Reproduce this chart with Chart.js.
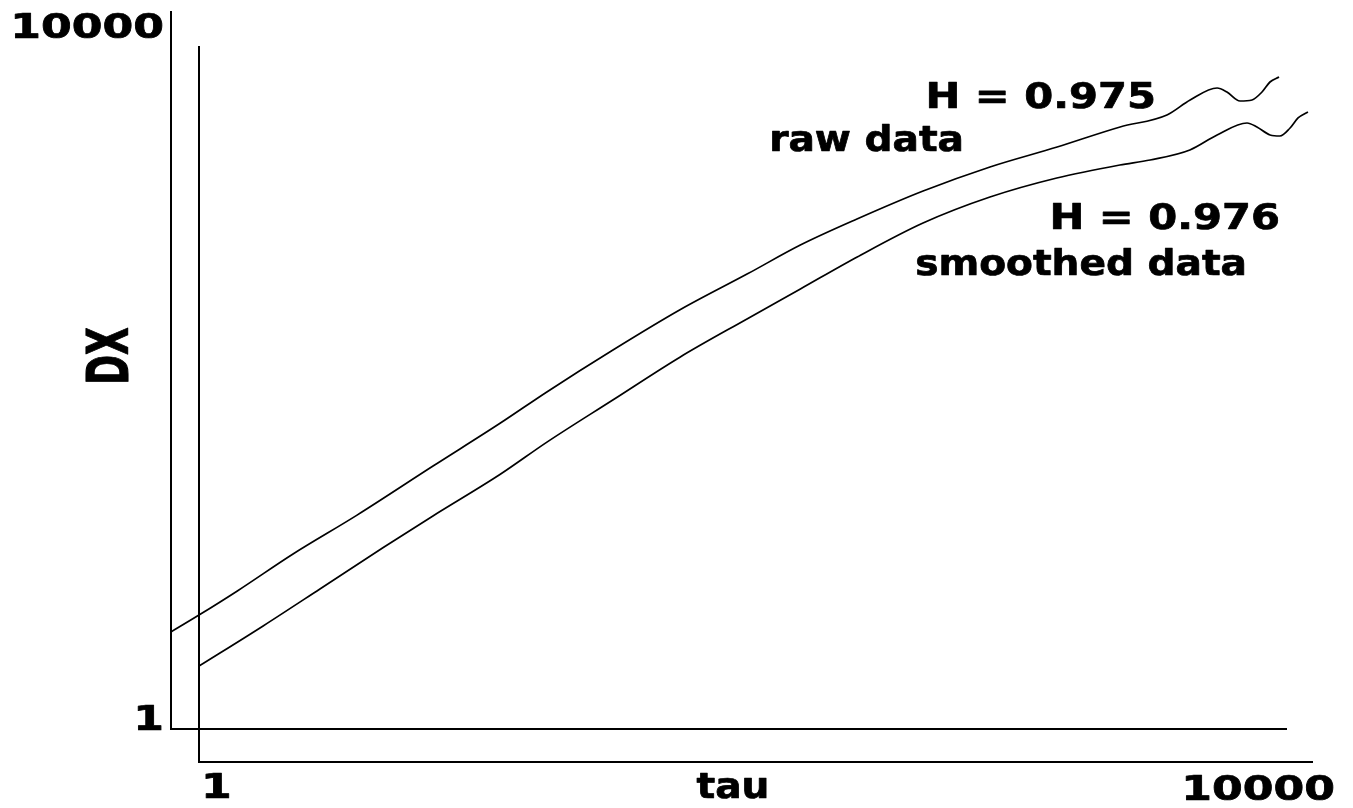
<!DOCTYPE html>
<html>
<head>
<meta charset="utf-8">
<title>DX vs tau</title>
<script src="https://cdn.jsdelivr.net/npm/chart.js@4.4.1/dist/chart.umd.min.js"></script>
<style>
  html, body { margin: 0; padding: 0; background: #ffffff; }
  #wrap { position: relative; width: 1353px; height: 808px; }
  #wrap canvas { position: absolute; left: 0; top: 0; }
</style>
</head>
<body>
<div id="wrap">
  <canvas id="rawChart" width="1353" height="808"></canvas>
  <canvas id="smoothChart" width="1353" height="808"></canvas>
</div>
<script>
// Dispersion DX against lag tau (log-log), raw and smoothed series
const tauRaw = [1, 1.26, 1.73, 2.74, 4.65, 8.71, 15.2, 22.3, 38.5, 67, 117, 181, 289, 499, 867, 1510, 2540, 3740, 4530, 5660, 6140, 6840, 7550, 8200, 8760, 9440];
const dxRaw  = [3.48, 4.32, 5.89, 9.47, 15.6, 29.3, 50.9, 75.9, 130, 218, 346, 501, 700, 1003, 1366, 1765, 2283, 2664, 3230, 3767, 3579, 3188, 3230, 3579, 4069, 4340];

const tauSmoothed = [1, 1.70, 2.72, 4.58, 6.93, 12.1, 17.8, 30.7, 53.5, 93.2, 145, 232, 400, 696, 1210, 2040, 2620, 3640, 4560, 5840, 6340, 7070, 7670, 8340, 8910, 9670];
const dxSmoothed  = [3.44, 5.77, 9.29, 15.8, 23.8, 40.7, 61.6, 106, 184, 301, 443, 669, 1036, 1448, 1850, 2187, 2333, 2653, 3219, 3757, 3568, 3219, 3177, 3523, 4007, 4330];

const axisMin = 1;
const axisMax = 10000;
const tickLabels = ['1', '10000'];

const hurstRaw = 'H = 0.975';
const hurstSmoothed = 'H = 0.976';
const rawName = 'raw data';
const smoothedName = 'smoothed data';
const xTitle = 'tau';
const yTitle = 'DX';

const FONT_FAMILY = '"DejaVu Sans", Verdana, sans-serif';

// Draws heavy bold text, optionally rotated, with independent horizontal/vertical scaling
function drawText(ctx, text, x, y, o) {
  ctx.save();
  ctx.translate(x, y);
  if (o.rotate) ctx.rotate(o.rotate);
  ctx.scale(o.sx || 1, o.sy || 1);
  ctx.font = 'bold ' + o.size + 'px ' + FONT_FAMILY;
  ctx.textAlign = o.align || 'left';
  ctx.textBaseline = 'alphabetic';
  ctx.fillStyle = '#000000';
  ctx.strokeStyle = '#000000';
  ctx.lineWidth = 0.7;
  ctx.lineJoin = 'round';
  ctx.fillText(text, 0, 0);
  ctx.strokeText(text, 0, 0);
  ctx.restore();
}

const TICK_FONT = { size: 34, sx: 1.3 };
const NOTE_BIG = { size: 35, sx: 1.19, sy: 1.03 };
const NOTE_SMALL = { size: 34, sx: 1.15, sy: 1.04 };

// Text for the raw frame: y-axis ticks, y title and the raw-series notes
const rawText = {
  id: 'rawText',
  afterDraw(chart) {
    const { ctx, scales: { y }, chartArea } = chart;
    const capH = 0.729 * TICK_FONT.size;
    const right = chartArea.left - 7;
    drawText(ctx, tickLabels[1], right, y.getPixelForValue(axisMax) + capH + 1, { ...TICK_FONT, align: 'right' });
    drawText(ctx, tickLabels[0], right, y.getPixelForValue(axisMin) + 1, { ...TICK_FONT, align: 'right' });
    drawText(ctx, yTitle, 128, 356, { size: 36, sx: 1.0, sy: 1.6, rotate: -Math.PI / 2, align: 'center' });
    drawText(ctx, hurstRaw, 1156, 108, { ...NOTE_BIG, align: 'right' });
    drawText(ctx, rawName, 964, 151, { ...NOTE_SMALL, align: 'right' });
  }
};

// Text for the smoothed frame: x-axis ticks, x title and the smoothed-series notes
const smoothText = {
  id: 'smoothText',
  afterDraw(chart) {
    const { ctx, scales: { x }, chartArea } = chart;
    const base = chartArea.bottom + 36;
    drawText(ctx, tickLabels[0], x.getPixelForValue(axisMin) + 2, base, { ...TICK_FONT, align: 'left' });
    drawText(ctx, tickLabels[1], x.getPixelForValue(axisMax) + 23, base + 2, { ...TICK_FONT, align: 'right' });
    drawText(ctx, xTitle, 733, 798, { size: 34, sx: 1.15, sy: 1.04, align: 'center' });
    drawText(ctx, hurstSmoothed, 1280, 229, { ...NOTE_BIG, align: 'right' });
    drawText(ctx, smoothedName, 1247, 275, { ...NOTE_SMALL, align: 'right' });
  }
};

function logAxis() {
  return {
    type: 'logarithmic',
    min: axisMin,
    max: axisMax,
    ticks: { display: false },
    grid: { display: false, drawTicks: false },
    border: { display: true, color: '#000000', width: 2 }
  };
}

function frameChart(canvasId, label, taus, values, padding, textPlugin) {
  return new Chart(document.getElementById(canvasId), {
    type: 'line',
    data: {
      datasets: [{
        label: label,
        data: taus.map((t, i) => ({ x: t, y: values[i] })),
        borderColor: '#000000',
        borderWidth: 1.7,
        pointRadius: 0,
        fill: false,
        cubicInterpolationMode: 'monotone'
      }]
    },
    options: {
      responsive: false,
      animation: false,
      events: [],
      layout: { padding: padding },
      plugins: { legend: { display: false }, tooltip: { enabled: false } },
      scales: { x: logAxis(), y: logAxis() }
    },
    plugins: [textPlugin]
  });
}

frameChart('rawChart', rawName, tauRaw, dxRaw, { left: 171, top: 12, right: 67, bottom: 79 }, rawText);
frameChart('smoothChart', smoothedName, tauSmoothed, dxSmoothed, { left: 199, top: 47, right: 41, bottom: 46 }, smoothText);
</script>
</body>
</html>
